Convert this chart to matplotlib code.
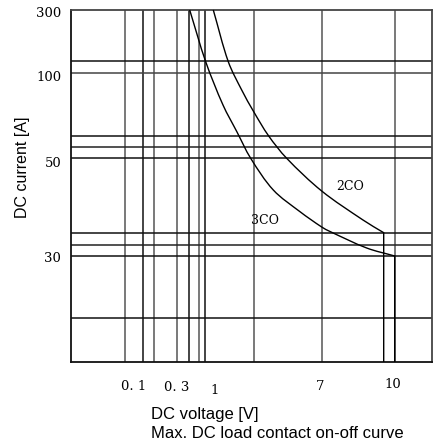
import matplotlib
matplotlib.use("Agg")
import matplotlib.pyplot as plt
import numpy as np
from matplotlib.path import Path
from matplotlib.patches import PathPatch

# ---- data (chart grid units: x 0..361, y 0..352) ----
v_lines = [53.7, 71.7, 82.7, 105.7, 117.7, 128.3, 134.3, 182.7, 250.7, 323.7]
h_lines = [300.7, 289.3, 226.3, 215.3, 203.7, 129.0, 117.3, 106.0, 44.3]

curve_3co_x = [118.7, 134.7, 152.0, 166.0, 179.7, 202.3, 229.0, 250.7, 259.0, 295.7, 323.7]
curve_3co_y = [352.0, 300.3, 257.0, 230.0, 203.7, 172.0, 150.3, 135.0, 130.5, 114.0, 106.0]
drop_3co_y = 0.0

curve_2co_x = [142.3, 157.3, 170.7, 182.7, 197.5, 215.7, 250.7, 292.0, 312.7]
curve_2co_y = [352.0, 300.3, 272.0, 250.3, 226.3, 203.7, 171.0, 142.0, 129.3]
drop_2co_y = 0.0

y_tick_pos = [350, 286, 200.3, 105]
y_tick_labels = ["300", "100", "50", "30"]
x_tick_pos = [62.3, 105.7, 143.3, 249, 322.3]
x_tick_labels = ["0. 1", "0. 3", "1", "7", "10"]

series_labels = ["2CO", "3CO"]
series_label_pos = [(279, 175.3), (194, 141.3)]

# ---- styles ----
v_colors = ["#555555", "#111111", "#555555", "#555555", "#111111", "#555555", "#111111", "#555555", "#555555", "#555555"]
h_colors = ["#111111", "#444444", "#111111", "#222222", "#111111", "#111111", "#222222", "#111111", "#111111"]
x_tick_offsets = [-24.5, -25.5, -28, -25, -22]  # pixels below axis bottom


def smooth_path(xs, ys, drop_y):
    """Chord-length Hermite curve through the read points (as cubic Beziers), then a vertical drop."""
    pts = np.column_stack([xs, ys]).astype(float)
    n = len(pts)
    d = np.linalg.norm(np.diff(pts, axis=0), axis=1)
    t = np.concatenate([[0], np.cumsum(d)])
    m = np.zeros_like(pts)
    m[0] = (pts[1] - pts[0]) / d[0]
    m[-1] = (pts[-1] - pts[-2]) / d[-1]
    for i in range(1, n - 1):
        m[i] = (pts[i + 1] - pts[i - 1]) / (t[i + 1] - t[i - 1])
    verts = [pts[0]]
    codes = [Path.MOVETO]
    for i in range(n - 1):
        h = d[i]
        verts += [pts[i] + m[i] * h / 3.0, pts[i + 1] - m[i + 1] * h / 3.0, pts[i + 1]]
        codes += [Path.CURVE4] * 3
    verts.append([pts[-1][0], drop_y])
    codes.append(Path.LINETO)
    return Path(verts, codes)


fig = plt.figure(figsize=(4.34, 4.43), dpi=100)
ax = fig.add_axes([71/434, 81/443, 361/434, 352/443])
ax.set_xlim(0, 361)
ax.set_ylim(0, 352)

for x, c in zip(v_lines, v_colors):
    ax.axvline(x, color=c, lw=1.1, zorder=1)
for y, c in zip(h_lines, h_colors):
    ax.axhline(y, color=c, lw=1.1, zorder=1)

for xs, ys, dy in [(curve_3co_x, curve_3co_y, drop_3co_y), (curve_2co_x, curve_2co_y, drop_2co_y)]:
    patch = PathPatch(smooth_path(xs, ys, dy), facecolor="none", edgecolor="black",
                      lw=1.0, zorder=3, clip_on=False)
    ax.add_patch(patch)

for lab, (lx, ly) in zip(series_labels, series_label_pos):
    ax.text(lx, ly, lab, family="DejaVu Serif", fontsize=9, ha="center", va="center", zorder=2)

for side in ["left", "bottom"]:
    ax.spines[side].set_color("#111111")
    ax.spines[side].set_linewidth(1.3)
for side in ["top", "right"]:
    ax.spines[side].set_color("#444444")
    ax.spines[side].set_linewidth(1.3)

ax.set_yticks(y_tick_pos)
ax.set_yticklabels(y_tick_labels, family="DejaVu Serif", fontsize=9.5)
ax.tick_params(axis="y", length=0, pad=7)
ax.set_xticks([])

px = 72 / 100.0
for x, lab, off in zip(x_tick_pos, x_tick_labels, x_tick_offsets):
    ax.annotate(lab, xy=(x, 0), xycoords="data", xytext=(0, off * px),
                textcoords="offset points", ha="center", va="center",
                family="DejaVu Serif", fontsize=9.5, annotation_clip=False)

fig.text(22.7/434, 1 - 167/443, "DC current [A]", rotation=90, ha="center", va="center",
         family="Liberation Sans", fontsize=11.5)
fig.text(150.7/434, 1 - 415/443, "DC voltage [V]", ha="left", va="center",
         family="Liberation Sans", fontsize=12)
fig.text(150.7/434, 1 - 434/443, "Max. DC load contact on-off curve", ha="left", va="center",
         family="Liberation Sans", fontsize=12)

fig.savefig("out.png", dpi=100)
